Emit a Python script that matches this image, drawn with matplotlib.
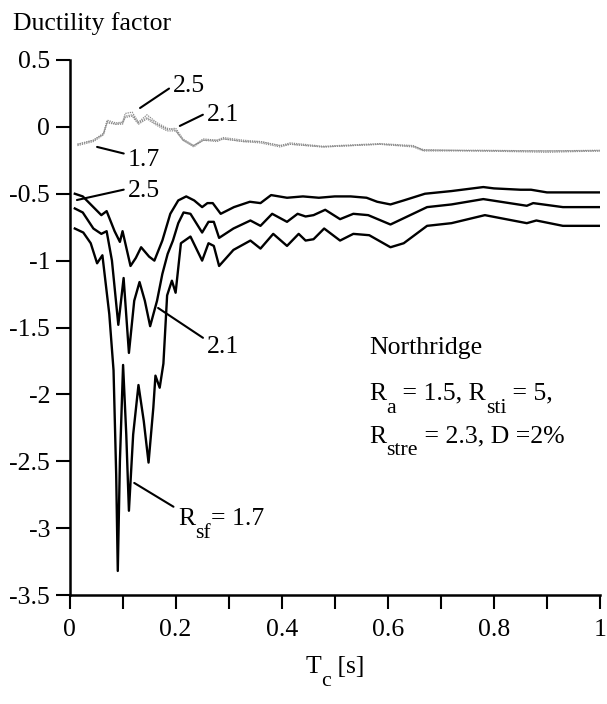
import matplotlib
matplotlib.use("Agg")
import matplotlib.pyplot as plt
import matplotlib.transforms as mtransforms

# ----------------------------------------
# Fonts (Times-like look)
# ----------------------------------------
plt.rcParams['font.family'] = ['Liberation Serif', 'DejaVu Serif']
plt.rcParams['axes.unicode_minus'] = False

# ----------------------------------------
# Data
# ----------------------------------------
# black curves: R_sf = 2.5 (top), 2.1 (middle), 1.7 (bottom)
x_25 = [0.01, 0.025, 0.045, 0.06, 0.07, 0.085, 0.095, 0.10, 0.115, 0.125,
        0.135, 0.15, 0.16, 0.175, 0.19, 0.205, 0.22, 0.235, 0.25, 0.26,
        0.27, 0.285, 0.31, 0.34, 0.36, 0.38, 0.41, 0.44, 0.47, 0.50,
        0.53, 0.56, 0.58, 0.605, 0.63, 0.67, 0.72, 0.78, 0.80, 0.85,
        0.87, 0.90, 0.95, 1.0]
y_25 = [-0.50, -0.52, -0.60, -0.66, -0.63, -0.78, -0.86, -0.78, -1.04, -0.98,
        -0.90, -0.97, -1.00, -0.85, -0.65, -0.55, -0.52, -0.55, -0.60, -0.57,
        -0.57, -0.65, -0.60, -0.56, -0.57, -0.51, -0.53, -0.52, -0.53, -0.52,
        -0.52, -0.53, -0.56, -0.58, -0.55, -0.50, -0.48, -0.45, -0.46, -0.47,
        -0.47, -0.49, -0.49, -0.49]

x_21 = [0.01, 0.025, 0.045, 0.06, 0.07, 0.08, 0.092, 0.102, 0.112, 0.122,
        0.132, 0.142, 0.152, 0.165, 0.175, 0.185, 0.195, 0.205, 0.215, 0.228,
        0.25, 0.262, 0.272, 0.282, 0.309, 0.341, 0.36, 0.382, 0.41, 0.43,
        0.445, 0.46, 0.482, 0.51, 0.535, 0.563, 0.605, 0.674, 0.72, 0.78,
        0.862, 0.874, 0.93, 1.0]
y_21 = [-0.61, -0.64, -0.76, -0.80, -0.78, -1.00, -1.48, -1.13, -1.69, -1.30,
        -1.16, -1.30, -1.49, -1.30, -1.10, -0.95, -0.85, -0.72, -0.64, -0.65,
        -0.79, -0.71, -0.71, -0.83, -0.76, -0.70, -0.74, -0.65, -0.71, -0.65,
        -0.67, -0.66, -0.62, -0.69, -0.65, -0.66, -0.73, -0.60, -0.58, -0.54,
        -0.59, -0.57, -0.60, -0.60]

x_17 = [0.01, 0.026, 0.04, 0.052, 0.062, 0.075, 0.083, 0.088, 0.091, 0.095,
        0.101, 0.107, 0.112, 0.12, 0.13, 0.14, 0.149, 0.158, 0.162, 0.17,
        0.177, 0.184, 0.193, 0.20, 0.21, 0.228, 0.25, 0.262, 0.272, 0.282,
        0.309, 0.341, 0.36, 0.384, 0.41, 0.432, 0.445, 0.46, 0.48, 0.51,
        0.535, 0.565, 0.605, 0.63, 0.674, 0.72, 0.783, 0.862, 0.88, 0.93, 1.0]
y_17 = [-0.76, -0.79, -0.87, -1.02, -0.96, -1.40, -1.82, -2.60, -3.32, -2.50,
        -1.78, -2.30, -2.87, -2.30, -1.93, -2.20, -2.51, -2.10, -1.86, -1.95,
        -1.77, -1.26, -1.15, -1.24, -0.87, -0.82, -1.00, -0.87, -0.89, -1.04,
        -0.92, -0.85, -0.91, -0.80, -0.89, -0.80, -0.85, -0.84, -0.76, -0.85,
        -0.80, -0.81, -0.90, -0.87, -0.74, -0.72, -0.66, -0.72, -0.70, -0.74, -0.74]

# grey curves (upper group), nearly on top of each other
x_grey = [0.015, 0.045, 0.064, 0.071, 0.087, 0.10, 0.105, 0.118, 0.13, 0.146,
          0.165, 0.184, 0.20, 0.214, 0.234, 0.252, 0.278, 0.29, 0.328, 0.36,
          0.397, 0.416, 0.478, 0.585, 0.648, 0.667, 0.774, 0.90, 1.0]
y_grey_25 = [-0.13, -0.10, -0.05, 0.05, 0.03, 0.035, 0.10, 0.11, 0.035, 0.09,
             0.03, -0.01, -0.025, -0.10, -0.14, -0.09, -0.10, -0.08, -0.10, -0.11,
             -0.14, -0.12, -0.145, -0.125, -0.14, -0.175, -0.175, -0.18, -0.175]
y_grey_21 = [-0.13, -0.10, -0.05, 0.04, 0.02, 0.03, 0.08, 0.09, 0.03, 0.07,
             0.02, -0.02, -0.01, -0.09, -0.14, -0.10, -0.10, -0.09, -0.11, -0.11,
             -0.14, -0.13, -0.15, -0.13, -0.145, -0.17, -0.18, -0.18, -0.18]
y_grey_17 = [-0.14, -0.11, -0.06, 0.03, 0.02, 0.02, 0.07, 0.08, 0.02, 0.06,
             0.01, -0.03, -0.03, -0.10, -0.15, -0.10, -0.11, -0.09, -0.11, -0.12,
             -0.15, -0.13, -0.15, -0.13, -0.15, -0.18, -0.18, -0.19, -0.18]

x_ticks = [0.0, 0.1, 0.2, 0.3, 0.4, 0.5, 0.6, 0.7, 0.8, 0.9, 1.0]
x_ticklabels = ["0", "", "0.2", "", "0.4", "", "0.6", "", "0.8", "", "1"]
y_ticks = [0.5, 0.0, -0.5, -1.0, -1.5, -2.0, -2.5, -3.0, -3.5]
y_ticklabels = ["0.5", "0", "-0.5", "-1", "-1.5", "-2", "-2.5", "-3", "-3.5"]

FS = 18.5

# ----------------------------------------
# Plot
# ----------------------------------------
fig = plt.figure(figsize=(6.07, 7.04), dpi=100)
ax = fig.add_axes([0.1145, 0.1548, 0.874, 0.760])
renderer = fig.canvas.get_renderer()

for yg in (y_grey_25, y_grey_21, y_grey_17):
  ax.plot(x_grey, yg, color="0.55", lw=0.9, linestyle=(0, (1, 0.8)))

for xs, ys in ((x_25, y_25), (x_21, y_21), (x_17, y_17)):
  ax.plot(xs, ys, color="black", lw=1.7)

ax.set_xlim(0, 1)
ax.set_ylim(-3.5, 0.5)
ax.set_xticks(x_ticks)
ax.set_xticklabels(x_ticklabels)
ax.set_yticks(y_ticks)
ax.set_yticklabels(y_ticklabels)

ax.spines["top"].set_visible(False)
ax.spines["right"].set_visible(False)
ax.spines["left"].set_linewidth(1.8)
ax.spines["bottom"].set_linewidth(1.8)
ax.tick_params(axis="both", direction="out", length=10, width=1.5,
               labelsize=FS, color="black")
ax.tick_params(axis="x", pad=7)
ax.tick_params(axis="y", pad=4)

# ----------------------------------------
# Helper: text with big, low subscripts (like the original typesetting)
# ----------------------------------------
def sub_text(x, y, pieces, transform, fs=FS, ha="left"):
  # pieces: list of (string, is_subscript)
  texts = []
  offset = 0.0
  for s, is_sub in pieces:
    size = fs * 0.85 if is_sub else fs
    dy = -0.5 * fs if is_sub else 0.0
    tr = mtransforms.offset_copy(transform, fig=fig, x=offset, y=dy, units="points")
    t = fig.text(x, y, s, fontsize=size, transform=tr, va="baseline", ha="left")
    w = t.get_window_extent(renderer).width * 72.0 / fig.dpi
    offset += w
    texts.append(t)
  if ha == "center":
    for t in texts:
      t.set_transform(mtransforms.offset_copy(t.get_transform(), fig=fig,
                                              x=-offset / 2, y=0, units="points"))
  return texts

# ----------------------------------------
# Labels
# ----------------------------------------
fig.text(0.021, 0.957, "Ductility factor", fontsize=FS, ha="left", va="baseline")
sub_text(0.552, 0.044, [("T", False), ("c", True), (" [s]", False)],
         fig.transFigure, ha="center")

line_kw = dict(arrowstyle="-", lw=1.5, color="black", shrinkA=1, shrinkB=0)

ax.annotate("2.5", xy=(0.133, 0.141), xytext=(0.195, 0.306), fontsize=FS,
            va="center", arrowprops=dict(line_kw, relpos=(0, 0.5)))
ax.annotate("2.1", xy=(0.208, 0.007), xytext=(0.259, 0.089), fontsize=FS,
            va="center", arrowprops=dict(line_kw, relpos=(0, 0.6)))
ax.annotate("1.7", xy=(0.052, -0.15), xytext=(0.110, -0.248), fontsize=FS,
            va="center", arrowprops=dict(line_kw, relpos=(0, 0.75)))
ax.annotate("2.5", xy=(0.014, -0.547), xytext=(0.110, -0.479), fontsize=FS,
            va="center", arrowprops=dict(line_kw, relpos=(0, 0.6)))
ax.annotate("2.1", xy=(0.167, -1.354), xytext=(0.259, -1.646), fontsize=FS,
            va="center", arrowprops=dict(line_kw, relpos=(0, 0.8)))

# R_sf = 1.7 with its pointer
ax.annotate("", xy=(0.122, -2.662), xytext=(0.196, -2.84),
            arrowprops=dict(line_kw, shrinkA=0))
sub_text(0.205, -2.977, [("R", False), ("sf", True), ("= 1.7", False)], ax.transData)

ax.text(0.565, -1.65, "Northridge", fontsize=FS, va="center")
sub_text(0.565, -2.04, [("R", False), ("a", True), (" = 1.5, R", False),
                        ("sti", True), (" = 5,", False)], ax.transData)
sub_text(0.565, -2.36, [("R", False), ("stre", True), (" = 2.3, D =2%", False)],
         ax.transData)

fig.savefig("out.png", dpi=100)
